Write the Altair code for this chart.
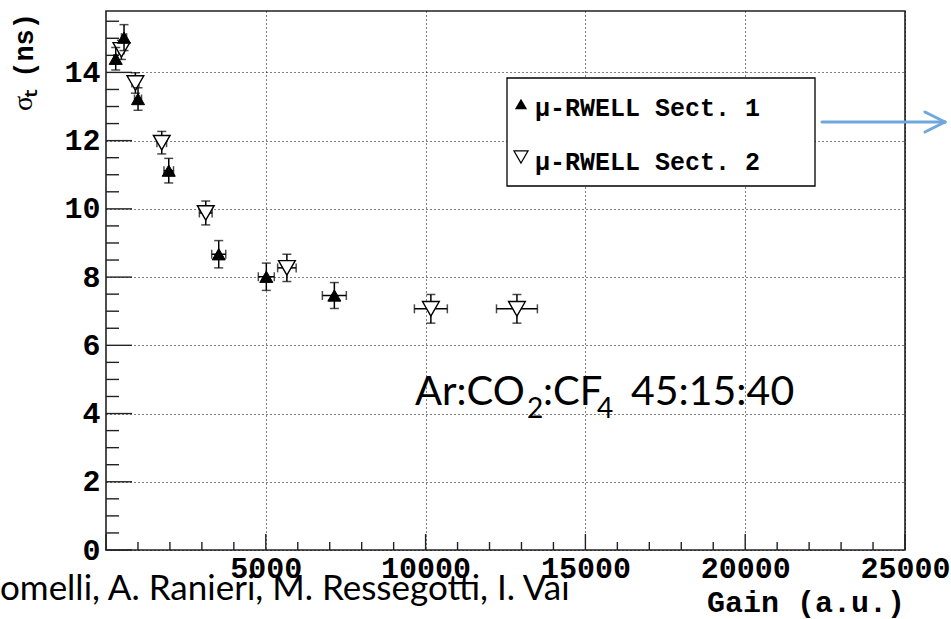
import altair as alt
import pandas as pd

# ---------------- data ----------------
sect_names = ["μ-RWELL Sect. 1", "μ-RWELL Sect. 2"]

s1_gain = [304, 564, 1002, 1963, 3527, 5016, 7145]
s1_sigma = [14.40, 15.02, 13.22, 11.12, 8.67, 8.01, 7.46]
s1_egain = [60, 80, 110, 150, 220, 250, 375]
s1_esigma = [0.33, 0.38, 0.33, 0.36, 0.40, 0.40, 0.38]

s2_gain = [482, 920, 1744, 3121, 5660, 10165, 12858]
s2_sigma = [14.66, 13.69, 11.94, 9.88, 8.27, 7.07, 7.07]
s2_egain = [80, 110, 150, 200, 290, 515, 640]
s2_esigma = [0.28, 0.30, 0.33, 0.35, 0.40, 0.42, 0.42]

x_labels = [5000, 10000, 15000, 20000, 25000]
x_major = [0, 5000, 10000, 15000, 20000, 25000]
x_minor = [i * 1000 for i in range(1, 25) if i % 5]
y_major = [0, 2, 4, 6, 8, 10, 12, 14]
y_minor = [i * 0.5 for i in range(1, 32) if i % 4]

gas_label = ["Ar:CO", "2", ":CF", "4", "45:15:40"]
authors = "omelli, A. Ranieri, M. Ressegotti, I. Vai"
x_title = "Gain (a.u.)"

# ---------------- layout ----------------
W, H = 799, 539
X_MAX, Y_MAX = 25000, 15.8
MONO = "Liberation Mono"
SANS = "Lato"
ARROW = "#6fa8dc"


def frame(gain, sigma, eg, es, name):
    return pd.DataFrame({
        "gain": gain, "sigma": sigma,
        "lo": [s - e for s, e in zip(sigma, es)],
        "hi": [s + e for s, e in zip(sigma, es)],
        "glo": [g - e for g, e in zip(gain, eg)],
        "ghi": [g + e for g, e in zip(gain, eg)],
        "sector": name,
    })


d1 = frame(s1_gain, s1_sigma, s1_egain, s1_esigma, sect_names[0])
d2 = frame(s2_gain, s2_sigma, s2_egain, s2_esigma, sect_names[1])

xs = alt.Scale(domain=[0, X_MAX], nice=False, zero=False)
ys = alt.Scale(domain=[0, Y_MAX], nice=False, zero=False)

xax = alt.Axis(values=x_labels, format="d", grid=True, gridDash=[1, 3], gridColor="#000",
               gridWidth=1, ticks=False, tickSize=0, domain=False,
               labelFont=MONO, labelFontWeight="bold", labelFontSize=30,
               labelColor="#000", labelPadding=3, labelFlush=False,
               labelOverlap=False, title=None)
yax = alt.Axis(values=y_major, format="d", grid=True, gridDash=[1, 3], gridColor="#000",
               gridWidth=1, ticks=False, tickSize=0, domain=False,
               labelFont=MONO, labelFontWeight="bold", labelFontSize=30,
               labelColor="#000", labelPadding=6, labelFlush=False,
               labelOverlap=False, title=None)


def X(f):
    return alt.X(f, type="quantitative", scale=xs, axis=xax)


def Y(f):
    return alt.Y(f, type="quantitative", scale=ys, axis=yax)


# ticks drawn inside the frame (ROOT style)
ytm = alt.Chart(pd.DataFrame({"v": y_major})).mark_rule(color="#222", strokeWidth=1.4).encode(
    y=Y("v"), x=alt.value(0), x2=alt.value(26))
ytn = alt.Chart(pd.DataFrame({"v": y_minor})).mark_rule(color="#222", strokeWidth=1.4).encode(
    y=Y("v"), x=alt.value(0), x2=alt.value(13))
xtm = alt.Chart(pd.DataFrame({"v": x_major})).mark_rule(color="#222", strokeWidth=1.4).encode(
    x=X("v"), y=alt.value(H), y2=alt.value(H - 16))
xtn = alt.Chart(pd.DataFrame({"v": x_minor})).mark_rule(color="#222", strokeWidth=1.4).encode(
    x=X("v"), y=alt.value(H), y2=alt.value(H - 8))


def errors(d):
    base = alt.Chart(d)
    v = base.mark_rule(color="#000", strokeWidth=1.5).encode(x=X("gain"), y=Y("lo"), y2="hi")
    h = base.mark_rule(color="#000", strokeWidth=1.5).encode(x=X("glo"), x2="ghi", y=Y("sigma"))
    c1 = base.mark_tick(orient="horizontal", size=9, thickness=1.5, color="#000").encode(x=X("gain"), y=Y("hi"))
    c2 = base.mark_tick(orient="horizontal", size=9, thickness=1.5, color="#000").encode(x=X("gain"), y=Y("lo"))
    c3 = base.mark_tick(orient="vertical", size=9, thickness=1.5, color="#000").encode(x=X("glo"), y=Y("sigma"))
    c4 = base.mark_tick(orient="vertical", size=9, thickness=1.5, color="#000").encode(x=X("ghi"), y=Y("sigma"))
    return [v, h, c1, c2, c3, c4]


m2 = alt.Chart(d2).mark_point(shape="triangle-down", size=280, filled=True, fill="white",
                              stroke="#000", strokeWidth=1.4, opacity=1).encode(x=X("gain"), y=Y("sigma"))
m1 = alt.Chart(d1).mark_point(shape="triangle-up", size=170, filled=True, fill="#000",
                              stroke="#000", strokeWidth=1, opacity=1).encode(x=X("gain"), y=Y("sigma"))

one = pd.DataFrame({"k": [0]})


def txt(s, x, y, **kw):
    return alt.Chart(pd.DataFrame({"t": [s]})).mark_text(**kw).encode(
        x=alt.value(x), y=alt.value(y), text="t:N")


# legend box
leg_box = alt.Chart(one).mark_rect(fill="white", stroke="#000", strokeWidth=1.3).encode(
    x=alt.value(401), x2=alt.value(709), y=alt.value(67), y2=alt.value(175))
leg_s1 = alt.Chart(pd.DataFrame({"sector": [sect_names[0]]})).mark_point(
    shape="triangle-up", size=150, filled=True, fill="#000", opacity=1).encode(
    x=alt.value(415), y=alt.value(93))
leg_s2 = alt.Chart(pd.DataFrame({"sector": [sect_names[1]]})).mark_point(
    shape="triangle-down", size=200, filled=True, fill="white", stroke="#000",
    strokeWidth=1.2, opacity=1).encode(x=alt.value(415), y=alt.value(146))
leg_t1 = txt(sect_names[0], 429, 105, font=MONO, fontWeight="bold", fontSize=25, align="left",
             baseline="alphabetic", color="#000")
leg_t2 = txt(sect_names[1], 429, 159, font=MONO, fontWeight="bold", fontSize=25, align="left",
             baseline="alphabetic", color="#000")


# arrow
def seg(x1, y1, x2, y2):
    return alt.Chart(one).mark_rule(color=ARROW, strokeWidth=3, strokeCap="round").encode(
        x=alt.value(x1), y=alt.value(y1), x2=alt.value(x2), y2=alt.value(y2))


arrow = [seg(716, 111, 839, 111), seg(819, 101, 839, 111), seg(819, 121, 839, 111)]

# gas mixture annotation
gas = [
    txt(gas_label[0], 309, 394, font=SANS, fontSize=40, align="left", baseline="alphabetic", color="#000"),
    txt(gas_label[1], 421, 407, font=SANS, fontSize=28, align="left", baseline="alphabetic", color="#000"),
    txt(gas_label[2], 437, 394, font=SANS, fontSize=40, align="left", baseline="alphabetic", color="#000"),
    txt(gas_label[3], 491, 407, font=SANS, fontSize=28, align="left", baseline="alphabetic", color="#000"),
    txt(gas_label[4], 525, 394, font=SANS, fontSize=41, align="left", baseline="alphabetic", color="#000"),
]

# titles
xt = txt(x_title, W, 601, font=MONO, fontWeight="bold", fontSize=30, align="right",
         baseline="alphabetic", color="#000")
yt = [
    txt("(ns)", -81, 2, font=MONO, fontWeight="bold", fontSize=27, angle=270, align="right",
        baseline="middle", color="#000"),
    txt("t", -74, 77, font=MONO, fontWeight="bold", fontSize=18, angle=270, align="right",
        baseline="middle", color="#000"),
    txt("σ", -82, 85, font="Liberation Serif", fontSize=28, angle=270, align="right",
        baseline="middle", color="#000"),
]
auth = txt(authors, -106, 589, font=SANS, fontSize=35, align="left", baseline="alphabetic", color="#000")

layers = [ytm, ytn, xtm, xtn] + errors(d2) + [m2] + errors(d1) + [m1] + \
    [leg_box, leg_s1, leg_s2, leg_t1, leg_t2] + arrow + gas + [xt] + yt + [auth]

chart = alt.layer(*layers).properties(
    width=W, height=H,
    autosize=alt.AutoSizeParams(type="none"),
    padding={"left": 106, "top": 11, "right": 46, "bottom": 69},
    background="white",
).configure_view(stroke="#222", strokeWidth=1.6)

chart.save("out.html", embed_options={"renderer": "svg", "actions": False})
